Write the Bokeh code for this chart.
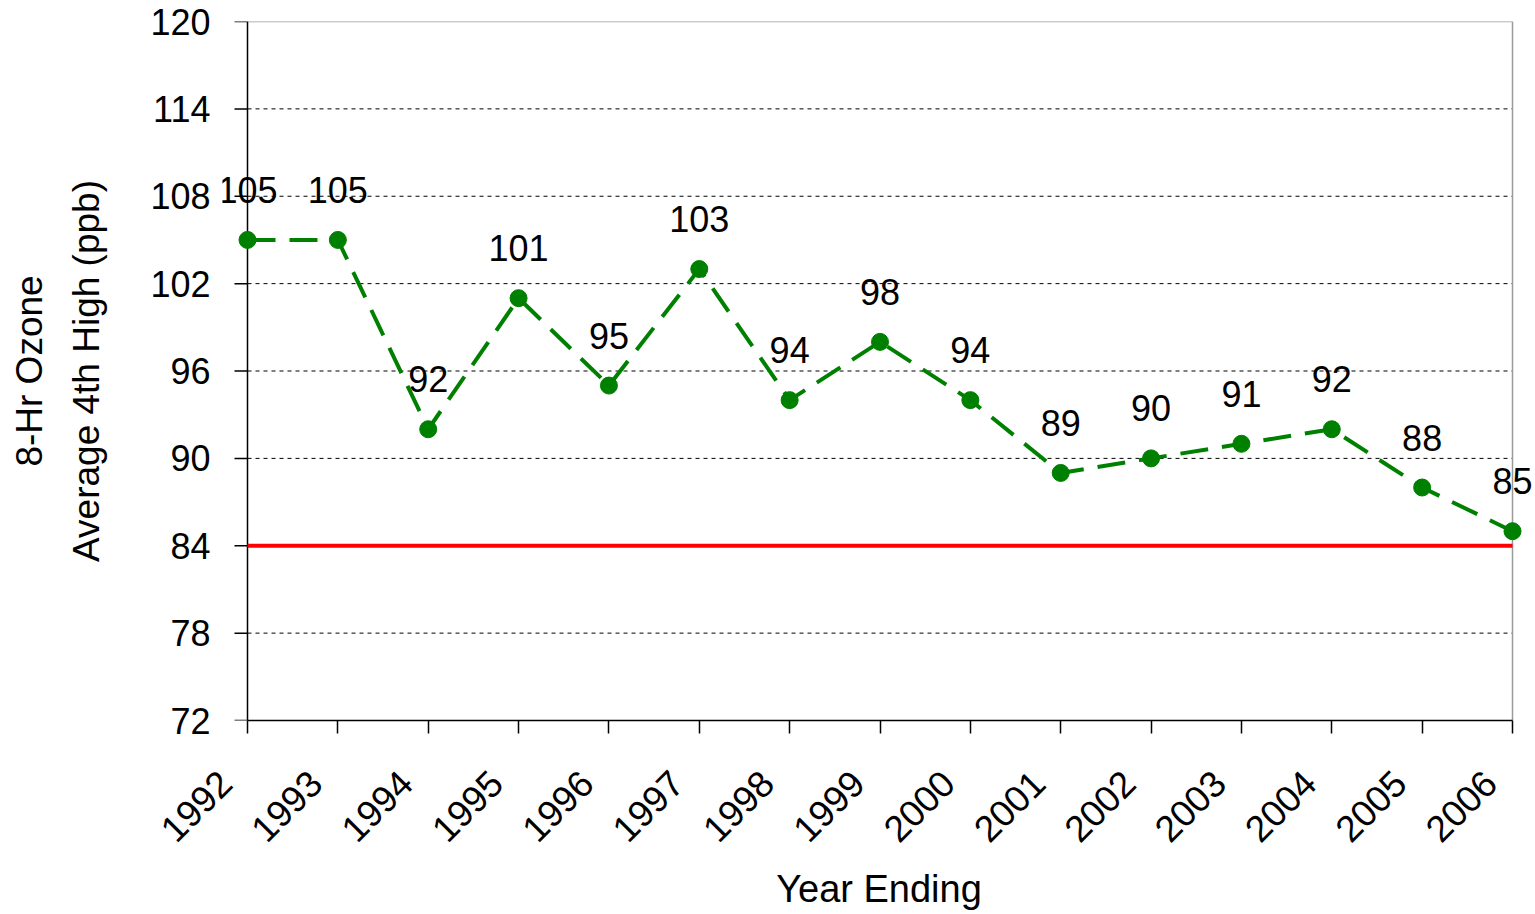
import math
from bokeh.plotting import figure
from bokeh.models import Range1d, FixedTicker, ColumnDataSource, LabelSet
from bokeh.core.properties import value
from bokeh.embed import file_html
from bokeh.resources import INLINE

years = [1992, 1993, 1994, 1995, 1996, 1997, 1998, 1999, 2000, 2001, 2002, 2003, 2004, 2005, 2006]
ozone = [105, 105, 92, 101, 95, 103, 94, 98, 94, 89, 90, 91, 92, 88, 85]
y_ticks = [72, 78, 84, 90, 96, 102, 108, 114, 120]
standard = 84

FONT = "Liberation Sans"
FS = "36px"

W, H = 1535, 914
frame_left, frame_right = 222, 1535     # frame in page pixels
axis_left_px, axis_right_px = 247, 1512  # where first / last year sit
px_per_year = (axis_right_px - axis_left_px) / (years[-1] - years[0])
x_start = years[0] - (axis_left_px - frame_left) / px_per_year
x_end = years[-1] + (frame_right - axis_right_px) / px_per_year
tick_len = 13 / px_per_year

p = figure(width=W, height=H, output_backend="svg", toolbar_location=None,
           x_range=Range1d(x_start, x_end), y_range=Range1d(y_ticks[0], y_ticks[-1]),
           min_border_left=frame_left, min_border_top=21, min_border_right=W - frame_right,
           min_border_bottom=H - 720)
p.background_fill_color = "white"
p.border_fill_color = "white"
p.outline_line_color = None
p.xgrid.visible = False
p.ygrid.visible = False

p.yaxis.ticker = FixedTicker(ticks=y_ticks)
p.xaxis.ticker = FixedTicker(ticks=years)
p.xaxis.bounds = (years[0], years[-1])
p.xaxis.major_label_overrides = {y: str(y) + "\u00a0\u00a0\u00a0" for y in years}
for ax in (p.xaxis[0], p.yaxis[0]):
    ax.axis_line_color = "black"
    ax.axis_line_width = 1.5
    ax.major_tick_line_color = "black"
    ax.major_tick_line_width = 1.5
    ax.major_tick_in = 0
    ax.major_tick_out = 13
    ax.minor_tick_line_color = None
    ax.major_label_text_font = FONT
    ax.major_label_text_font_size = FS
    ax.major_label_text_color = "black"
    ax.axis_label_text_font = FONT
    ax.axis_label_text_font_size = FS
    ax.axis_label_text_font_style = "normal"
    ax.axis_label_text_color = "black"

# y axis sits at the frame edge; its line and ticks are drawn at the first year below
p.yaxis.axis_line_color = None
p.yaxis.major_tick_line_color = None
p.yaxis.major_tick_out = 0
p.yaxis.major_label_standoff = 12
p.yaxis.axis_label = "8-Hr Ozone\nAverage 4th High (ppb)"
p.yaxis.axis_label_text_font_size = "37px"
p.yaxis.axis_label_standoff = 40
p.yaxis.axis_label_text_line_height = 1.4

p.xaxis.major_label_orientation = math.pi / 4
p.xaxis.major_label_text_font_size = "37px"
p.xaxis.major_label_standoff = 22
p.xaxis.axis_label = "Year Ending"
p.xaxis.axis_label_text_font_size = "38px"
p.xaxis.axis_label_standoff = 0

# dashed horizontal gridlines, between the axis and the last year
grid_y = y_ticks[1:-1]
p.segment(x0=[years[0]] * len(grid_y), x1=[years[-1]] * len(grid_y), y0=grid_y, y1=grid_y,
          line_color="black", line_width=1, line_dash="4 4")
# plot-area border (top and right)
p.segment(x0=[years[0], years[-1]], x1=[years[-1], years[-1]],
          y0=[y_ticks[-1], y_ticks[0]], y1=[y_ticks[-1], y_ticks[-1]],
          line_color="#9a9a9a", line_width=1.5)
# value axis line and its ticks at the first year
p.segment(x0=[years[0]], x1=[years[0]], y0=[y_ticks[0]], y1=[y_ticks[-1]],
          line_color="black", line_width=1.5)
p.segment(x0=[years[0] - tick_len] * len(y_ticks), x1=[years[0]] * len(y_ticks),
          y0=y_ticks, y1=y_ticks, line_color="black", line_width=1.5)
# standard line
p.segment(x0=[years[0]], x1=[years[-1]], y0=[standard], y1=[standard],
          line_color="#ff0000", line_width=4)

src = ColumnDataSource(dict(x=years, y=ozone, lab=[str(v) for v in ozone]))
green = "#008000"
p.line("x", "y", source=src, line_color=green, line_width=4, line_dash="28 14")
p.scatter("x", "y", source=src, size=17, fill_color=green, line_color=green)
p.add_layout(LabelSet(x="x", y="y", text="lab", source=src, text_align="center",
                      text_baseline="bottom", y_offset=37, text_font=value(FONT),
                      text_font_size=FS, text_color="black"))

open("out.html", "w").write(file_html(p, INLINE))
